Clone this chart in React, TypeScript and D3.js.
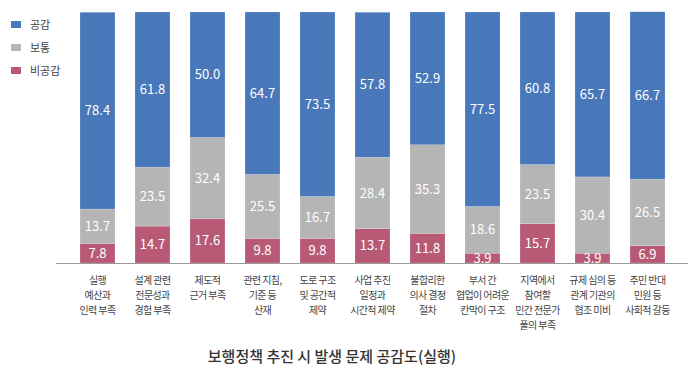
import React, { useRef, useEffect } from "react";
import * as d3 from "d3";

const categories = [
  ["실행", "예산과", "인력 부족"],
  ["설계 관련", "전문성과", "경험 부족"],
  ["제도적", "근거 부족"],
  ["관련 지침,", "기준 등", "산재"],
  ["도로 구조", "및 공간적", "제약"],
  ["사업 추진", "일정과", "시간적 제약"],
  ["불합리한", "의사 결정", "절차"],
  ["부서 간", "협업이 어려운", "칸막이 구조"],
  ["지역에서", "참여할", "민간 전문가", "풀의 부족"],
  ["규제 심의 등", "관계 기관의", "협조 미비"],
  ["주민 반대", "민원 등", "사회적 갈등"],
];
const disagree = [7.8, 14.7, 17.6, 9.8, 9.8, 13.7, 11.8, 3.9, 15.7, 3.9, 6.9];
const neutral = [13.7, 23.5, 32.4, 25.5, 16.7, 28.4, 35.3, 18.6, 23.5, 30.4, 26.5];
const agree = [78.4, 61.8, 50.0, 64.7, 73.5, 57.8, 52.9, 77.5, 60.8, 65.7, 66.7];
const seriesNames = ["공감", "보통", "비공감"];
const title = "보행정책 추진 시 발생 문제 공감도(실행)";

const colors = ["#4877ba", "#b5b5b5", "#b85a76"];
const font = "'Noto Sans CJK KR', 'Noto Sans', sans-serif";

const W = 700;
const H = 384;

export default function App() {
  const ref = useRef<SVGSVGElement>(null);

  useEffect(() => {
    const svg = d3.select(ref.current);
    svg.selectAll("*").remove();

    const x = d3
      .scaleBand<number>()
      .domain(d3.range(categories.length))
      .range([70, 675])
      .paddingInner(0.364)
      .paddingOuter(0.182);
    const y = d3.scaleLinear().domain([0, 100]).range([263, 12]);

    // stack order: bottom 비공감, then 보통, then 공감
    const rows = categories.map((_, i) => ({ i, 비공감: disagree[i], 보통: neutral[i], 공감: agree[i] }));
    const stack = d3.stack<any>().keys(["비공감", "보통", "공감"]);
    const layers = stack(rows);
    const colorOf: Record<string, string> = { 공감: colors[0], 보통: colors[1], 비공감: colors[2] };

    const g = svg.append("g");
    layers.forEach((layer) => {
      const lg = g.append("g").attr("fill", colorOf[layer.key]);
      lg.selectAll("rect")
        .data(layer)
        .enter()
        .append("rect")
        .attr("x", (d: any) => x(d.data.i)!)
        .attr("width", x.bandwidth())
        .attr("y", (d) => y(d[1]))
        .attr("height", (d) => y(d[0]) - y(d[1]))
        .attr("stroke", "#fff")
        .attr("stroke-opacity", 0.35)
        .attr("stroke-width", 0.5);
      lg.selectAll("text")
        .data(layer)
        .enter()
        .append("text")
        .attr("x", (d: any) => x(d.data.i)! + x.bandwidth() / 2)
        .attr("y", (d) => (y(d[0]) + y(d[1])) / 2)
        .attr("dy", "0.35em")
        .attr("text-anchor", "middle")
        .attr("fill", "#fff")
        .attr("font-size", 13)
        .attr("font-family", font)
        .text((d: any) => d.data[layer.key].toFixed(1));
    });

    // baseline
    svg.append("line")
      .attr("x1", 56).attr("x2", 688)
      .attr("y1", 263.5).attr("y2", 263.5)
      .attr("stroke", "#999").attr("stroke-width", 1);

    // category labels
    const labels = svg.append("g")
      .attr("font-family", font)
      .attr("font-size", 10)
      .attr("letter-spacing", -0.6)
      .attr("fill", "#444");
    categories.forEach((lines, i) => {
      const t = labels.append("text")
        .attr("x", x(i)! + x.bandwidth() / 2)
        .attr("y", 284)
        .attr("text-anchor", "middle");
      lines.forEach((s, j) => {
        t.append("tspan")
          .attr("x", x(i)! + x.bandwidth() / 2)
          .attr("dy", j === 0 ? 0 : 15)
          .text(s);
      });
    });

    // legend
    const legend = svg.append("g").attr("font-family", font).attr("font-size", 11).attr("fill", "#444");
    seriesNames.forEach((name, i) => {
      legend.append("rect")
        .attr("x", 11).attr("y", 21 + i * 23)
        .attr("width", 10).attr("height", 7)
        .attr("fill", colors[i]);
      legend.append("text")
        .attr("x", 30).attr("y", 25 + i * 23)
        .attr("dy", "0.35em")
        .text(name);
    });

    svg.append("text")
      .attr("x", 332).attr("y", 362)
      .attr("text-anchor", "middle")
      .attr("font-family", font)
      .attr("font-size", 15)
      .attr("font-weight", 500)
      .attr("fill", "#333")
      .text(title);
  }, []);

  return (
    <svg
      ref={ref}
      width={W}
      height={H}
      style={{ position: "absolute", left: 0, top: 0, background: "#fff" }}
    />
  );
}
